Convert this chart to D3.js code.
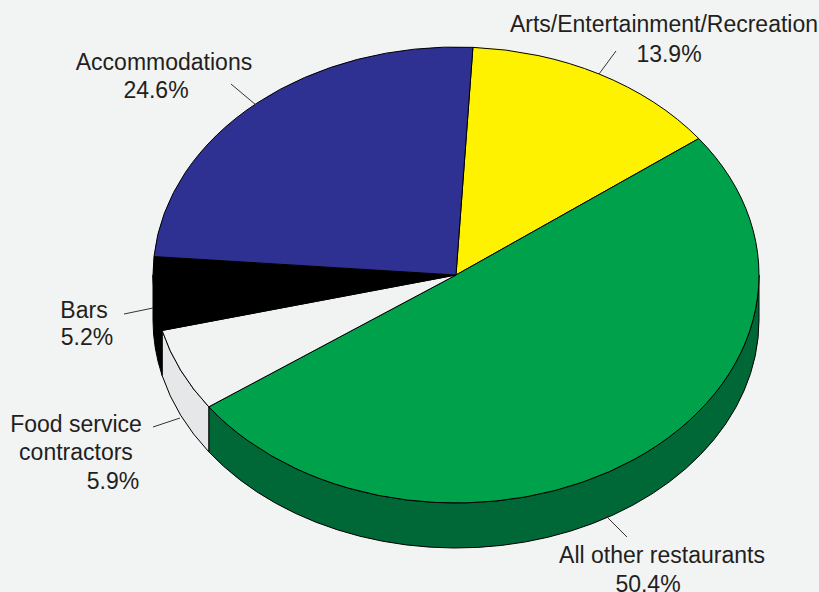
<!DOCTYPE html>
<html lang="en">
<head>
<meta charset="utf-8">
<style>
	body { margin: 0; background-color: #f2f3f3; }
	svg { display: block; font-family: 'Liberation Sans', Arial, Helvetica, sans-serif; }
	.label { font-size: 23px; fill: #231f20; text-anchor: middle; }
	.leader { stroke: #333; stroke-width: 1; }
	.top, .side { stroke: #000; stroke-width: 1; stroke-linejoin: round; }
</style>
</head>
<body>
<svg width="819" height="592"></svg>
<script src="https://d3js.org/d3.v7.min.js"></script>
<script>
	// data, clockwise from the top
	const categories = ["Arts/Entertainment/Recreation", "All other restaurants", "Food service contractors", "Bars", "Accommodations"];
	const shares = [13.9, 50.4, 5.9, 5.2, 24.6];
	const topColors = ["#fff200", "#00a14b", "#f1f2f2", "#000000", "#2e3192"];
	const sideColors = ["#c9bf00", "#006837", "#e6e7e8", "#000000", "#1f2170"];

	// label lines (text, x, baseline y) and leader lines
	const labelLines = [
		[["Arts/Entertainment/Recreation", 664, 32], ["13.9%", 669, 62]],
		[["All other restaurants", 662, 563], ["50.4%", 648, 592]],
		[["Food service", 76, 432], ["contractors", 76, 460], ["5.9%", 113, 489]],
		[["Bars", 84, 318], ["5.2%", 87, 345]],
		[["Accommodations", 164, 70], ["24.6%", 156, 98]]
	];
	const leaders = [
		[[616, 51], [599, 74]],
		[[627, 537], [606, 516]],
		[[153, 427], [180, 418]],
		[[124, 314], [153, 308]],
		[[231, 84], [256, 105]]
	];

	const cx = 456, cy = 275, rx = 303, ry = 228, depth = 45;
	const startDeg = 3.2;

	const svg = d3.select("svg");

	const pie = d3.pie().sort(null).value(d => d)
		.startAngle(startDeg * Math.PI / 180)
		.endAngle(startDeg * Math.PI / 180 + 2 * Math.PI);
	const arcs = pie(shares);

	const px = a => cx + rx * Math.sin(a);
	const py = (a, dz) => cy - ry * Math.cos(a) + (dz || 0);

	function topPath(d) {
		const large = d.endAngle - d.startAngle > Math.PI ? 1 : 0;
		return `M${cx},${cy}L${px(d.startAngle)},${py(d.startAngle)}` +
			`A${rx},${ry} 0 ${large} 1 ${px(d.endAngle)},${py(d.endAngle)}Z`;
	}

	// only the front half of the rim (90..270 deg) can be seen
	function sidePath(d) {
		const s0 = Math.max(d.startAngle, Math.PI / 2);
		const s1 = Math.min(d.endAngle, 3 * Math.PI / 2);
		if (s0 >= s1) return null;
		return `M${px(s0)},${py(s0)}A${rx},${ry} 0 0 1 ${px(s1)},${py(s1)}` +
			`L${px(s1)},${py(s1, depth)}A${rx},${ry} 0 0 0 ${px(s0)},${py(s0, depth)}Z`;
	}

	const sides = arcs.map((d, i) => ({ d: sidePath(d), i })).filter(s => s.d);
	svg.append("g").selectAll("path")
		.data(sides)
		.join("path")
		.attr("class", "side")
		.attr("d", s => s.d)
		.attr("fill", s => sideColors[s.i]);

	svg.append("g").selectAll("path")
		.data(arcs)
		.join("path")
		.attr("class", "top")
		.attr("d", topPath)
		.attr("fill", (d, i) => topColors[i]);

	svg.append("g").selectAll("line")
		.data(leaders)
		.join("line")
		.attr("class", "leader")
		.attr("x1", d => d[0][0]).attr("y1", d => d[0][1])
		.attr("x2", d => d[1][0]).attr("y2", d => d[1][1]);

	svg.append("g").selectAll("text")
		.data(labelLines.flat())
		.join("text")
		.attr("class", "label")
		.attr("x", d => d[1])
		.attr("y", d => d[2])
		.text(d => d[0]);
</script>
</body>
</html>
